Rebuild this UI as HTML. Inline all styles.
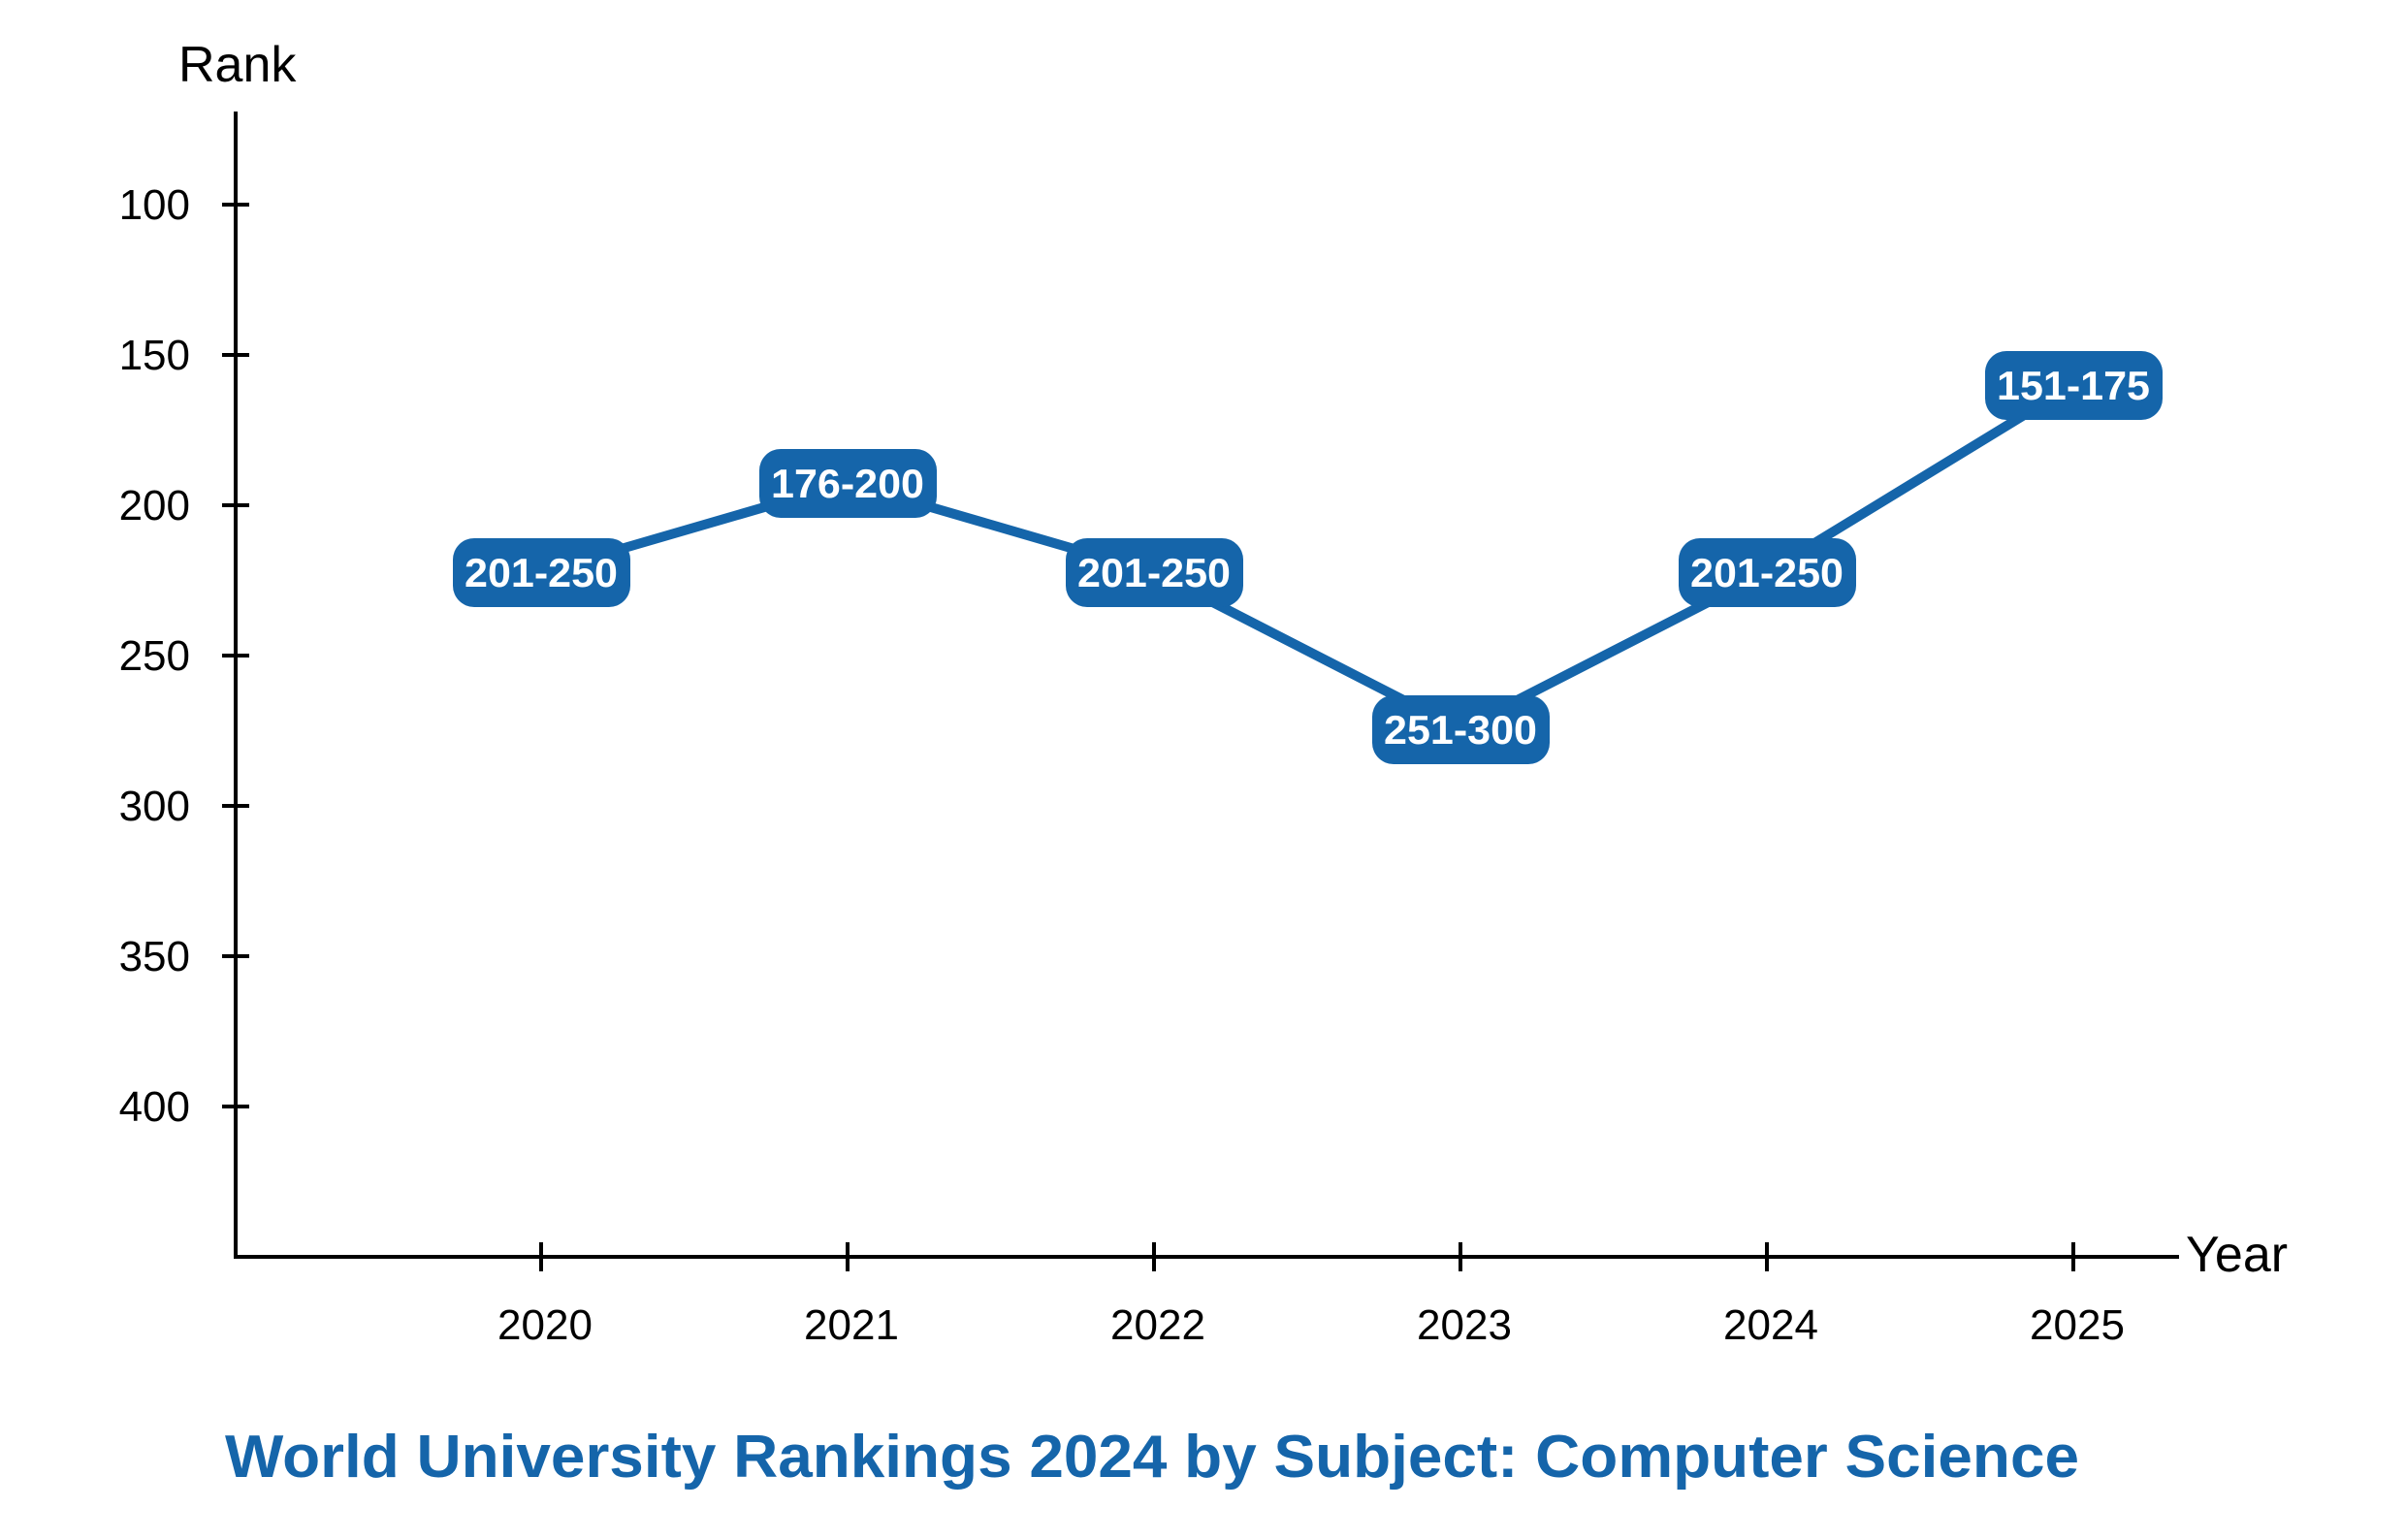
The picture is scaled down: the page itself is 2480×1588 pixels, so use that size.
<!DOCTYPE html>
<html><head><meta charset="utf-8"><style>
html,body{margin:0;padding:0;background:#fff}
svg{display:block}
</style></head><body>
<svg width="2480" height="1588" viewBox="0 0 2480 1588" xmlns="http://www.w3.org/2000/svg" font-family="Liberation Sans, DejaVu Sans, sans-serif">
<rect width="2480" height="1588" fill="#fff"/>
<g stroke="#000" stroke-width="4" fill="none">
<line x1="243" y1="115" x2="243" y2="1298"/>
<line x1="241" y1="1296" x2="2247" y2="1296"/>
<line x1="229" y1="211" x2="257" y2="211"/>
<line x1="229" y1="366" x2="257" y2="366"/>
<line x1="229" y1="521" x2="257" y2="521"/>
<line x1="229" y1="676" x2="257" y2="676"/>
<line x1="229" y1="831" x2="257" y2="831"/>
<line x1="229" y1="986" x2="257" y2="986"/>
<line x1="229" y1="1141" x2="257" y2="1141"/>
<line x1="558" y1="1281" x2="558" y2="1311"/>
<line x1="874" y1="1281" x2="874" y2="1311"/>
<line x1="1190" y1="1281" x2="1190" y2="1311"/>
<line x1="1506" y1="1281" x2="1506" y2="1311"/>
<line x1="1822" y1="1281" x2="1822" y2="1311"/>
<line x1="2138" y1="1281" x2="2138" y2="1311"/>
</g>
<g font-size="44" fill="#000" text-anchor="end">
<text x="196" y="226">100</text>
<text x="196" y="381">150</text>
<text x="196" y="536">200</text>
<text x="196" y="691">250</text>
<text x="196" y="846">300</text>
<text x="196" y="1001">350</text>
<text x="196" y="1156">400</text>
</g>
<g font-size="44" fill="#000" text-anchor="middle">
<text x="562" y="1381">2020</text>
<text x="878" y="1381">2021</text>
<text x="1194" y="1381">2022</text>
<text x="1510" y="1381">2023</text>
<text x="1826" y="1381">2024</text>
<text x="2142" y="1381">2025</text>
</g>
<text x="184" y="84" font-size="52" fill="#000">Rank</text>
<text x="2254" y="1311" font-size="52" fill="#000">Year</text>
<polyline points="558,590 874,498 1190,590 1506,752 1822,590 2138,397" fill="none" stroke="#1565AA" stroke-width="10" stroke-linejoin="round"/>
<g fill="#1565AA">
<rect x="467" y="555" width="183" height="71" rx="22"/>
<rect x="783" y="463" width="183" height="71" rx="22"/>
<rect x="1099" y="555" width="183" height="71" rx="22"/>
<rect x="1415" y="717" width="183" height="71" rx="22"/>
<rect x="1731" y="555" width="183" height="71" rx="22"/>
<rect x="2047" y="362" width="183" height="71" rx="22"/>
</g>
<g font-size="42" font-weight="bold" fill="#fff" text-anchor="middle">
<text x="558" y="605" textLength="158" lengthAdjust="spacingAndGlyphs">201-250</text>
<text x="874" y="513" textLength="158" lengthAdjust="spacingAndGlyphs">176-200</text>
<text x="1190" y="605" textLength="158" lengthAdjust="spacingAndGlyphs">201-250</text>
<text x="1506" y="767" textLength="158" lengthAdjust="spacingAndGlyphs">251-300</text>
<text x="1822" y="605" textLength="158" lengthAdjust="spacingAndGlyphs">201-250</text>
<text x="2138" y="412" textLength="158" lengthAdjust="spacingAndGlyphs">151-175</text>
</g>
<text x="1188" y="1523" font-size="62" font-weight="bold" fill="#1565AA" text-anchor="middle" textLength="1912" lengthAdjust="spacingAndGlyphs">World University Rankings 2024 by Subject: Computer Science</text>
</svg>
</body></html>
